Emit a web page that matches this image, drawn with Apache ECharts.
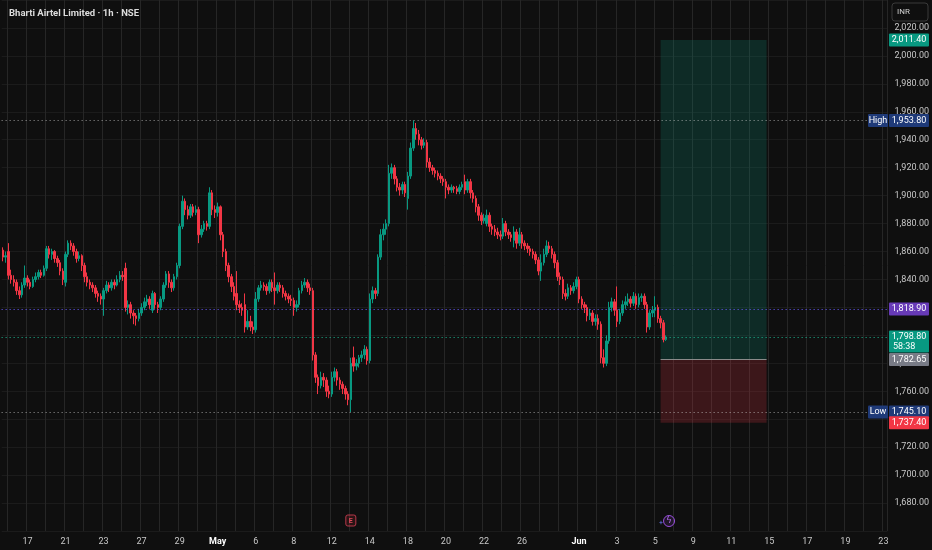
<!DOCTYPE html>
<html>
<head>
<meta charset="utf-8">
<title>Bharti Airtel Limited · 1h · NSE</title>
<script src="https://cdn.jsdelivr.net/npm/echarts@6/dist/echarts.min.js"></script>
<style>
  html, body { margin: 0; padding: 0; background: #0f0f0f; }
  #main { width: 932px; height: 550px; }
</style>
</head>
<body>
<div id="main"></div>
<script>
// hourly bars, each row is [open, close, low, high]
var barsApr = [
  [1861,1856,1853,1863],[1856,1857,1852,1860],[1860,1843,1840,1866],[1843,1840,1837,1847],[1840,1838,1835,1843],[1838,1832,1829,1840],[1832,1829,1826,1835],[1829,1836,1827,1838],[1836,1841,1834,1850],
  [1841,1838,1835,1843],[1838,1835,1833,1840],[1835,1840,1834,1842],[1840,1842,1838,1845],[1842,1845,1840,1847],[1845,1843,1841,1847],[1843,1848,1842,1850],
  [1848,1862,1846,1864],[1862,1858,1855,1864],[1858,1860,1854,1862],[1860,1855,1852,1861],[1855,1852,1849,1857],[1852,1846,1843,1854],[1846,1840,1836,1848],
  [1838,1858,1835,1860],[1858,1866,1856,1868],[1866,1864,1861,1868],[1864,1860,1857,1866],[1860,1855,1852,1862],[1855,1857,1853,1860],[1857,1850,1846,1858],
  [1850,1842,1838,1852],[1842,1838,1835,1845],[1838,1836,1833,1840],[1836,1834,1831,1838],[1834,1830,1827,1836],[1830,1828,1824,1832],[1828,1826,1822,1830],
  [1826,1832,1814,1834],[1832,1836,1830,1839],[1836,1834,1831,1838],[1834,1838,1832,1840],[1838,1836,1833,1840],[1836,1840,1835,1843],[1840,1843,1838,1846],
  [1843,1842,1839,1846],[1848,1820,1817,1852],[1820,1822,1815,1825],[1822,1816,1812,1824],[1816,1814,1808,1818],[1814,1812,1807,1816],[1812,1816,1810,1819],
  [1816,1820,1814,1823],[1820,1824,1818,1827],[1824,1826,1821,1829],[1826,1822,1819,1828],[1818,1830,1816,1832],[1830,1822,1819,1831],[1822,1820,1816,1824],
  [1820,1826,1818,1828],[1826,1836,1824,1838],[1836,1844,1834,1846],[1844,1838,1834,1846],[1838,1834,1831,1840],[1834,1842,1832,1844],[1842,1850,1840,1852],
  [1850,1878,1848,1880],[1878,1896,1876,1900],[1896,1890,1886,1898],[1890,1886,1883,1893],[1886,1892,1884,1894],[1892,1888,1885,1894],[1888,1890,1886,1893],
  [1890,1872,1866,1892],[1872,1876,1870,1879],[1876,1880,1874,1882],[1880,1878,1875,1882],[1878,1902,1876,1906],[1902,1890,1886,1904],[1890,1888,1884,1893]
];
var barsMay = [
  [1888,1892,1885,1895],[1892,1872,1868,1893],[1872,1860,1856,1874],[1860,1850,1846,1862],[1850,1842,1838,1852],[1842,1835,1831,1844],[1835,1828,1825,1838],
  [1830,1822,1818,1846],[1822,1820,1816,1825],[1820,1818,1814,1823],[1822,1806,1802,1830],[1806,1810,1804,1818],[1810,1806,1803,1814],[1806,1804,1801,1810],
  [1804,1826,1802,1831],[1826,1834,1824,1836],[1834,1836,1832,1839],[1836,1835,1832,1838],[1835,1832,1829,1837],[1832,1838,1830,1840],[1838,1834,1831,1840],
  [1834,1832,1822,1845],[1832,1836,1830,1838],[1836,1834,1831,1838],[1834,1830,1827,1836],[1830,1828,1825,1832],[1828,1826,1823,1830],[1826,1825,1821,1829],
  [1825,1820,1814,1827],[1820,1822,1817,1825],[1822,1832,1820,1834],[1832,1836,1830,1839],[1836,1838,1834,1841],[1838,1834,1831,1840],[1834,1832,1829,1837],
  [1832,1786,1782,1834],[1786,1770,1766,1788],[1770,1764,1758,1772],[1764,1770,1762,1774],[1770,1768,1763,1773],[1768,1760,1756,1770],[1760,1758,1755,1764],
  [1758,1770,1756,1774],[1770,1774,1767,1777],[1774,1768,1764,1776],[1768,1765,1761,1770],[1765,1762,1758,1767],[1762,1758,1754,1764],[1758,1754,1750,1760],
  [1754,1780,1745.1,1784],[1784,1778,1774,1792],[1778,1780,1775,1783],[1780,1784,1777,1786],[1784,1786,1781,1789],[1786,1790,1783,1793],[1790,1782,1779,1792],
  [1782,1826,1780,1830],[1826,1832,1823,1835],[1832,1830,1826,1834],[1830,1856,1828,1858],[1856,1872,1854,1876],[1872,1876,1868,1880],[1876,1880,1872,1883],
  [1880,1916,1878,1922],[1916,1920,1912,1923],[1920,1912,1908,1922],[1912,1906,1903,1914],[1906,1904,1900,1909],[1904,1908,1901,1910],[1908,1902,1899,1910],
  [1898,1914,1890,1917],[1914,1934,1912,1938],[1934,1948,1932,1953.8],[1948,1944,1940,1952],[1944,1940,1936,1947],[1940,1936,1933,1942],[1936,1938,1934,1941],
  [1938,1924,1920,1940],[1924,1920,1917,1927],[1920,1918,1915,1922],[1918,1916,1913,1920],[1916,1914,1911,1918],[1914,1912,1909,1916],[1912,1910,1907,1914],
  [1910,1906,1898,1912],[1906,1904,1901,1908],[1904,1906,1902,1908],[1906,1905,1902,1907],[1905,1903,1901,1907],[1903,1906,1901,1908],[1906,1908,1904,1910],
  [1910,1904,1901,1915],[1904,1910,1902,1912],[1910,1902,1898,1912],[1902,1898,1895,1904],[1898,1892,1888,1900],[1892,1886,1882,1894],[1886,1882,1879,1888],
  [1882,1884,1880,1887],[1880,1886,1878,1890],[1886,1878,1874,1888],[1878,1876,1872,1880],[1876,1874,1871,1879],[1874,1872,1869,1877],[1872,1871,1868,1875],
  [1871,1880,1869,1884],[1880,1874,1871,1882],[1874,1872,1869,1876],[1872,1870,1867,1874],[1868,1874,1863,1878],[1874,1866,1862,1876],[1866,1872,1864,1877],
  [1872,1866,1862,1874],[1866,1864,1861,1868],[1864,1862,1859,1866],[1862,1860,1857,1864],[1860,1858,1855,1862],[1858,1854,1851,1860],[1854,1846,1843,1856],
  [1846,1852,1839,1858],[1852,1858,1850,1862],[1858,1864,1856,1868],[1864,1862,1859,1867],[1862,1858,1855,1864],[1858,1852,1848,1860],[1852,1842,1839,1854],
  [1842,1840,1836,1845],[1840,1830,1826,1842],[1830,1828,1825,1833],[1828,1834,1826,1837],[1834,1832,1829,1836],[1832,1835,1830,1838],[1835,1840,1833,1842]
];
var barsJun = [
  [1840,1826,1823,1842],[1826,1822,1819,1828],[1822,1820,1816,1824],[1820,1814,1810,1822],[1814,1816,1811,1819],[1816,1810,1807,1818],[1810,1812,1807,1815],
  [1812,1808,1804,1815],[1808,1784,1780,1810],[1784,1780,1777,1790],[1780,1796,1778,1800],[1796,1820,1794,1824],[1820,1824,1817,1827],[1824,1818,1814,1826],
  [1818,1810,1806,1835],[1810,1816,1808,1819],[1816,1822,1814,1825],[1822,1824,1819,1828],[1824,1826,1821,1830],[1826,1823,1820,1828],[1823,1828,1821,1831],
  [1828,1822,1819,1830],[1822,1827,1820,1830],[1827,1828,1824,1830],[1828,1822,1819,1830],[1822,1806,1802,1824],[1806,1816,1804,1818],[1816,1818,1813,1821],
  [1818,1820,1813,1828],[1820,1812,1809,1822],[1812,1809,1805,1814],[1809,1797,1795,1811],[1797,1798.8,1796,1800]
];

// time axis: 7 hourly bars per session, labels on some session starts
var tickLabels = ['17','21','23','27','29','May','6','8','12','14','18','20','22','26','Jun','3','5','9','11','15','17','19','23'];
var tickDays   = [0,2,4,6,8,10,12,14,16,18,20,22,24,26,29,31,33,35,37,39,41,43,45];
var boldTicks  = ['May','Jun'];
var firstDayBar = 9;
var barsPerDay = 7;
var totalSlots = 326;

// price levels
var yTicksMin = 1680, yTicksMax = 2020;
var targetPrice = 2011.40;
var entryPrice = 1782.65;
var stopPrice = 1737.40;
var highPrice = 1953.80;
var lowPrice = 1745.10;
var alertPrice = 1818.90;
var lastPrice = 1798.80;
var countdown = '58:38';
var positionStartBar = 242, positionEndBar = 281;
var earningsBar = 128, dividendBar = 244;

var UP = '#089981', DOWN = '#f23645';

(function(){
    var ohlc = barsApr.concat(barsMay, barsJun);
    var cats = [];
    for (var i = 0; i < totalSlots; i++) cats.push('b' + i);
    var labelMap = {};
    tickDays.forEach(function(d, j){ labelMap[firstDayBar + d * barsPerDay] = tickLabels[j]; });

    function fmt(v){
        return v.toLocaleString('en-US', {minimumFractionDigits: 2, maximumFractionDigits: 2});
    }
    var dots = [1, 3];

    var myChart = echarts.init(document.getElementById('main'));
    var option = {
        backgroundColor: '#0f0f0f',
        animation: false,
        title: {
            text: 'Bharti Airtel Limited · 1h · NSE',
            left: 4,
            top: 4,
            textStyle: { color: '#dcdcdc', fontSize: 9.5, fontWeight: 'bold', fontFamily: 'Roboto' }
        },
        grid: { left: 0, right: 44, top: 0, bottom: 19 },
        xAxis: {
            type: 'category',
            data: cats,
            boundaryGap: true,
            axisLine: { show: false },
            axisTick: { show: false, interval: 0 },
            axisLabel: {
                interval: 0,
                margin: 6,
                color: '#c8c8c8',
                fontSize: 9,
                fontFamily: 'Roboto',
                formatter: function(v, idx){
                    var t = labelMap[idx];
                    if (!t) return '';
                    return boldTicks.indexOf(t) >= 0 ? '{b|' + t + '}' : t;
                },
                rich: { b: { color: '#ffffff', fontWeight: 'bold', fontSize: 9, fontFamily: 'Roboto' } }
            },
            splitLine: {
                show: true,
                interval: function(idx){ return (idx - firstDayBar) % barsPerDay === 0; },
                lineStyle: { color: '#262626', width: 1, type: 'solid' }
            }
        },
        yAxis: {
            type: 'value',
            position: 'right',
            min: 1660,
            max: 2040,
            interval: 20,
            axisLine: { show: false },
            axisTick: { show: false },
            axisLabel: {
                margin: 7,
                color: '#c8c8c8',
                fontSize: 9,
                fontFamily: 'Roboto',
                formatter: function(v){
                    if (v < yTicksMin || v > yTicksMax) return '';
                    return fmt(v);
                }
            },
            splitLine: { lineStyle: { color: 'rgba(255,255,255,0.05)' } }
        },
        series: [{
            name: 'BHARTIARTL',
            type: 'candlestick',
            data: ohlc,
            barWidth: 2,
            itemStyle: {
                color: UP,
                color0: DOWN,
                borderColor: UP,
                borderColor0: DOWN,
                borderWidth: 1
            },
            markArea: {
                silent: true,
                data: [
                    [{ xAxis: cats[positionStartBar], yAxis: entryPrice, itemStyle: { color: 'rgba(8,153,129,0.2)' } },
                     { xAxis: cats[positionEndBar], yAxis: targetPrice }],
                    [{ xAxis: cats[positionStartBar], yAxis: stopPrice, itemStyle: { color: 'rgba(242,54,69,0.2)' } },
                     { xAxis: cats[positionEndBar], yAxis: entryPrice }]
                ]
            },
            markLine: {
                silent: true,
                symbol: 'none',
                label: { show: false },
                data: [
                    { yAxis: highPrice, lineStyle: { color: 'rgba(210,210,210,0.7)', type: dots, width: 1 } },
                    { yAxis: lowPrice, lineStyle: { color: 'rgba(210,210,210,0.7)', type: dots, width: 1 } },
                    { yAxis: alertPrice, lineStyle: { color: '#6a5cff', type: dots, width: 1 } },
                    { yAxis: lastPrice, lineStyle: { color: '#1fb894', type: dots, width: 1 } },
                    [{ coord: [cats[positionStartBar], entryPrice], lineStyle: { color: '#8a8a8a', type: 'solid', width: 1 } },
                     { coord: [cats[positionEndBar], entryPrice] }]
                ]
            }
        }]
    };
    myChart.setOption(option);

    // price badges on the right scale
    function yPix(v){ return myChart.convertToPixel({ yAxisIndex: 0 }, v); }
    function xPix(i){ return myChart.convertToPixel({ xAxisIndex: 0 }, cats[i]); }
    var bx = 889, bw = 40, bh = 13;
    var badges = [
        { v: targetPrice, bg: UP },
        { v: highPrice, bg: '#1f3a78', tag: 'High' },
        { v: alertPrice, bg: '#673ab7' },
        { v: lastPrice, bg: UP, sub: countdown },
        { v: entryPrice, bg: '#787b86' },
        { v: lowPrice, bg: '#1f3a78', tag: 'Low' },
        { v: stopPrice, bg: DOWN }
    ];
    var g = [];
    badges.forEach(function(b){
        var y = yPix(b.v);
        var h = b.sub ? 22 : bh;
        var top = y - 6.5;
        g.push({ type: 'rect', z: 100, shape: { x: bx, y: top, width: bw, height: h, r: 1 }, style: { fill: b.bg } });
        g.push({ type: 'text', z: 101, x: bx + bw / 2, y: y, style: { text: fmt(b.v), fill: '#ffffff', fontSize: 9, fontFamily: 'Roboto', align: 'center', verticalAlign: 'middle' } });
        if (b.sub) {
            g.push({ type: 'text', z: 101, x: bx + 4, y: y + 10, style: { text: b.sub, fill: '#ffffff', fontSize: 9, fontFamily: 'Roboto', align: 'left', verticalAlign: 'middle' } });
        }
        if (b.tag) {
            g.push({ type: 'rect', z: 100, shape: { x: bx - 21, y: top, width: 20, height: bh, r: 1 }, style: { fill: b.bg } });
            g.push({ type: 'text', z: 101, x: bx - 11, y: y, style: { text: b.tag, fill: '#ffffff', fontSize: 9, fontFamily: 'Roboto', align: 'center', verticalAlign: 'middle' } });
        }
    });
    // currency box
    g.push({ type: 'rect', z: 100, shape: { x: 892, y: 3, width: 36, height: 18, r: 3 }, style: { fill: '#0f0f0f', stroke: '#3a3a3a', lineWidth: 1 } });
    g.push({ type: 'text', z: 101, x: 897, y: 12, style: { text: 'INR', fill: '#d0d0d0', fontSize: 8, fontFamily: 'Roboto', verticalAlign: 'middle' } });
    // earnings and dividend markers on the time scale
    var ex = xPix(earningsBar);
    g.push({ type: 'rect', z: 100, shape: { x: ex - 5, y: 515, width: 10, height: 11, r: 2 }, style: { fill: 'rgba(242,54,69,0.12)', stroke: '#b8384a', lineWidth: 1 } });
    g.push({ type: 'text', z: 101, x: ex, y: 521, style: { text: 'E', fill: '#e0495a', fontSize: 7, fontFamily: 'Roboto', fontWeight: 'bold', align: 'center', verticalAlign: 'middle' } });
    var dx = xPix(dividendBar) + 3;
    g.push({ type: 'circle', z: 100, shape: { cx: dx, cy: 521, r: 5.5 }, style: { fill: 'rgba(156,79,224,0.12)', stroke: '#9b4fe0', lineWidth: 1 } });
    g.push({ type: 'text', z: 101, x: dx, y: 521, style: { text: 'ϟ', fill: '#b36cf0', fontSize: 9, fontFamily: 'DejaVu Sans', align: 'center', verticalAlign: 'middle' } });
    g.push({ type: 'text', z: 101, x: dx - 8, y: 523, style: { text: '+', fill: '#6b7cff', fontSize: 7, fontFamily: 'Roboto', align: 'center', verticalAlign: 'middle' } });
    myChart.setOption({ graphic: g });

    window.addEventListener('resize', function(){
        myChart.resize();
    });
})();
</script>
</body>
</html>
